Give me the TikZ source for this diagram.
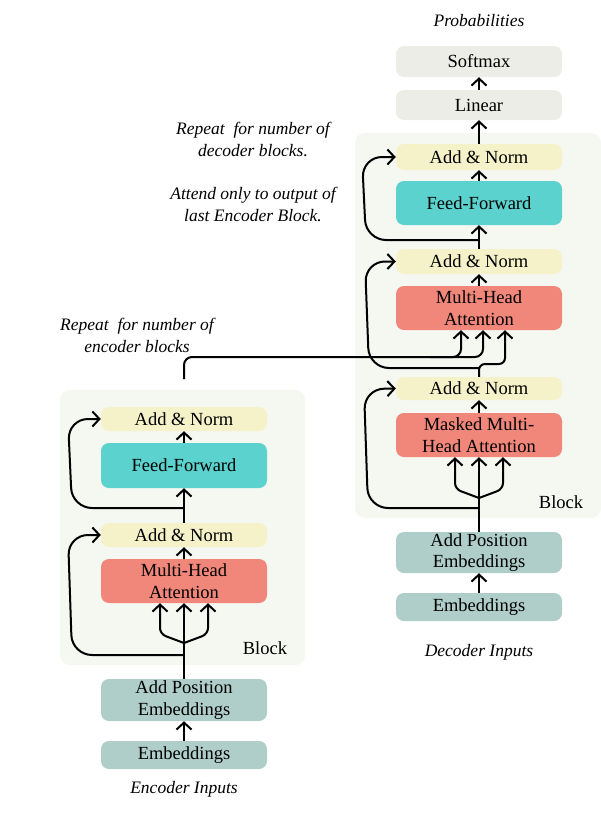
\documentclass[tikz,border=0pt]{standalone}
\usepackage{fontspec}
\setmainfont{Liberation Serif}
\usetikzlibrary{arrows.meta}

\definecolor{softgray}{HTML}{EBEDE6}
\definecolor{blockbg}{HTML}{F5F7F1}
\definecolor{normyellow}{HTML}{F5F2C9}
\definecolor{ffteal}{HTML}{5CD2CE}
\definecolor{attnred}{HTML}{F0877A}
\definecolor{embgreen}{HTML}{AFCEC9}

\tikzset{
  layer/.style={rounded corners=8pt, minimum width=166pt, align=center,
    inner sep=0pt, font=\fontsize{18.5}{21.5}\selectfont},
  arr/.style={-{Straight Barb[length=7pt,width=15pt,line width=2pt]}, line width=2pt},
  wire/.style={line width=2pt},
  note/.style={align=center, font=\fontsize{17.5}{22}\selectfont\itshape},
  tag/.style={font=\fontsize{18.5}{21.5}\selectfont}
}

\begin{document}
\begin{tikzpicture}[x=1pt,y=-1pt]
\useasboundingbox (0,0) rectangle (601,814);

% block backgrounds
\fill[blockbg, rounded corners=10pt] (60,390) rectangle (305,665);
\fill[blockbg, rounded corners=10pt] (355,133) rectangle (601,518);

% encoder
\node[layer, fill=embgreen, minimum height=28pt] (encemb) at (184,755) {Embeddings};
\node[layer, fill=embgreen, minimum height=42pt] (encpos) at (184,700) {Add Position\\Embeddings};
\node[layer, fill=attnred, minimum height=44pt] (encmha) at (184,581) {Multi-Head\\Attention};
\node[layer, fill=normyellow, minimum height=24pt] (encanone) at (184,535) {Add \& Norm};
\node[layer, fill=ffteal, minimum height=45pt] (encff) at (184,465.5) {Feed-Forward};
\node[layer, fill=normyellow, minimum height=24pt] (encantwo) at (184,419) {Add \& Norm};
\node[tag] (encblock) at (265,648) {Block};

% decoder
\node[layer, fill=embgreen, minimum height=28pt] (decemb) at (479,607) {Embeddings};
\node[layer, fill=embgreen, minimum height=41pt] (decpos) at (479,552.5) {Add Position\\Embeddings};
\node[layer, fill=attnred, minimum height=44pt] (decmmha) at (479,435) {Masked Multi-\\Head Attention};
\node[layer, fill=normyellow, minimum height=23pt] (decanone) at (479,388.5) {Add \& Norm};
\node[layer, fill=attnred, minimum height=44pt] (decmha) at (479,308) {Multi-Head\\Attention};
\node[layer, fill=normyellow, minimum height=25pt] (decantwo) at (479,261.5) {Add \& Norm};
\node[layer, fill=ffteal, minimum height=44pt] (decff) at (479,203) {Feed-Forward};
\node[layer, fill=normyellow, minimum height=26pt] (decanthree) at (479,157) {Add \& Norm};
\node[layer, fill=softgray, minimum height=30pt] (linear) at (479,105) {Linear};
\node[layer, fill=softgray, minimum height=31pt] (softmax) at (479,61.5) {Softmax};
\node[tag] (decblock) at (561,502) {Block};

% notes
\node[note] (probs) at (479,21) {Probabilities};
\node[note] (encinputs) at (184,789) {Encoder Inputs};
\node[note] (decinputs) at (479,652) {Decoder Inputs};
\node[note] (encrepeat) at (137,335) {Repeat\ \ for number of\\encoder blocks};
\node[note] (decrepeat) at (253,139) {Repeat\ \ for number of\\decoder blocks.};
\node[note] (attend) at (253,204) {Attend only to output of\\last Encoder Block.};

% encoder wiring
\coordinate (encsplit) at (184,643);
\draw[arr] (encemb) -- (encpos);
\draw[arr] (encpos.north) -- (encmha.south);
\draw[arr, rounded corners=6pt] (encsplit) -- (160,634) -- ([xshift=-24pt]encmha.south);
\draw[arr, rounded corners=6pt] (encsplit) -- (208,634) -- ([xshift=24pt]encmha.south);
\draw[arr, rounded corners=20pt] (184,655) -- (72,655) -- (68,535) -- (encanone.west);
\draw[arr] (encmha) -- (encanone);
\draw[arr] (encanone) -- (encff);
\draw[arr, rounded corners=20pt] (184,508) -- (72,508) -- (68,419) -- (encantwo.west);
\draw[arr] (encff) -- (encantwo);

% encoder to decoder
\coordinate (encout) at (184,379);
\coordinate (encjoin) at (430,357);
\draw[wire, rounded corners=8pt] (encout) |- (encjoin);
\draw[arr, rounded corners=8pt] (encjoin) -| ([xshift=-18pt]decmha.south);
\draw[arr, rounded corners=8pt] (encjoin) -| ([xshift=4pt]decmha.south);

% decoder wiring
\coordinate (decsplit) at (479,498);
\draw[arr] (decemb) -- (decpos);
\draw[arr] (decpos.north) -- (decmmha.south);
\draw[arr, rounded corners=6pt] (decsplit) -- (455,489) -- ([xshift=-24pt]decmmha.south);
\draw[arr, rounded corners=6pt] (decsplit) -- (503,489) -- ([xshift=24pt]decmmha.south);
\draw[arr, rounded corners=20pt] (479,508) -- (368,508) -- (364,389) -- (decanone.west);
\draw[arr] (decmmha) -- (decanone);
\draw[arr, rounded corners=6pt] (decanone.north) -- (479,364) -| ([xshift=26pt]decmha.south);
\draw[arr, rounded corners=20pt] (479,368) -- (369,368) -- (365,261.5) -- (decantwo.west);
\draw[arr] (decmha) -- (decantwo);
\draw[arr] (decantwo) -- (decff);
\draw[arr, rounded corners=20pt] (479,240) -- (366,240) -- (362,157) -- (decanthree.west);
\draw[arr] (decff) -- (decanthree);
\draw[arr] (decanthree) -- (linear);
\draw[arr] (linear) -- (softmax);
\end{tikzpicture}
\end{document}
